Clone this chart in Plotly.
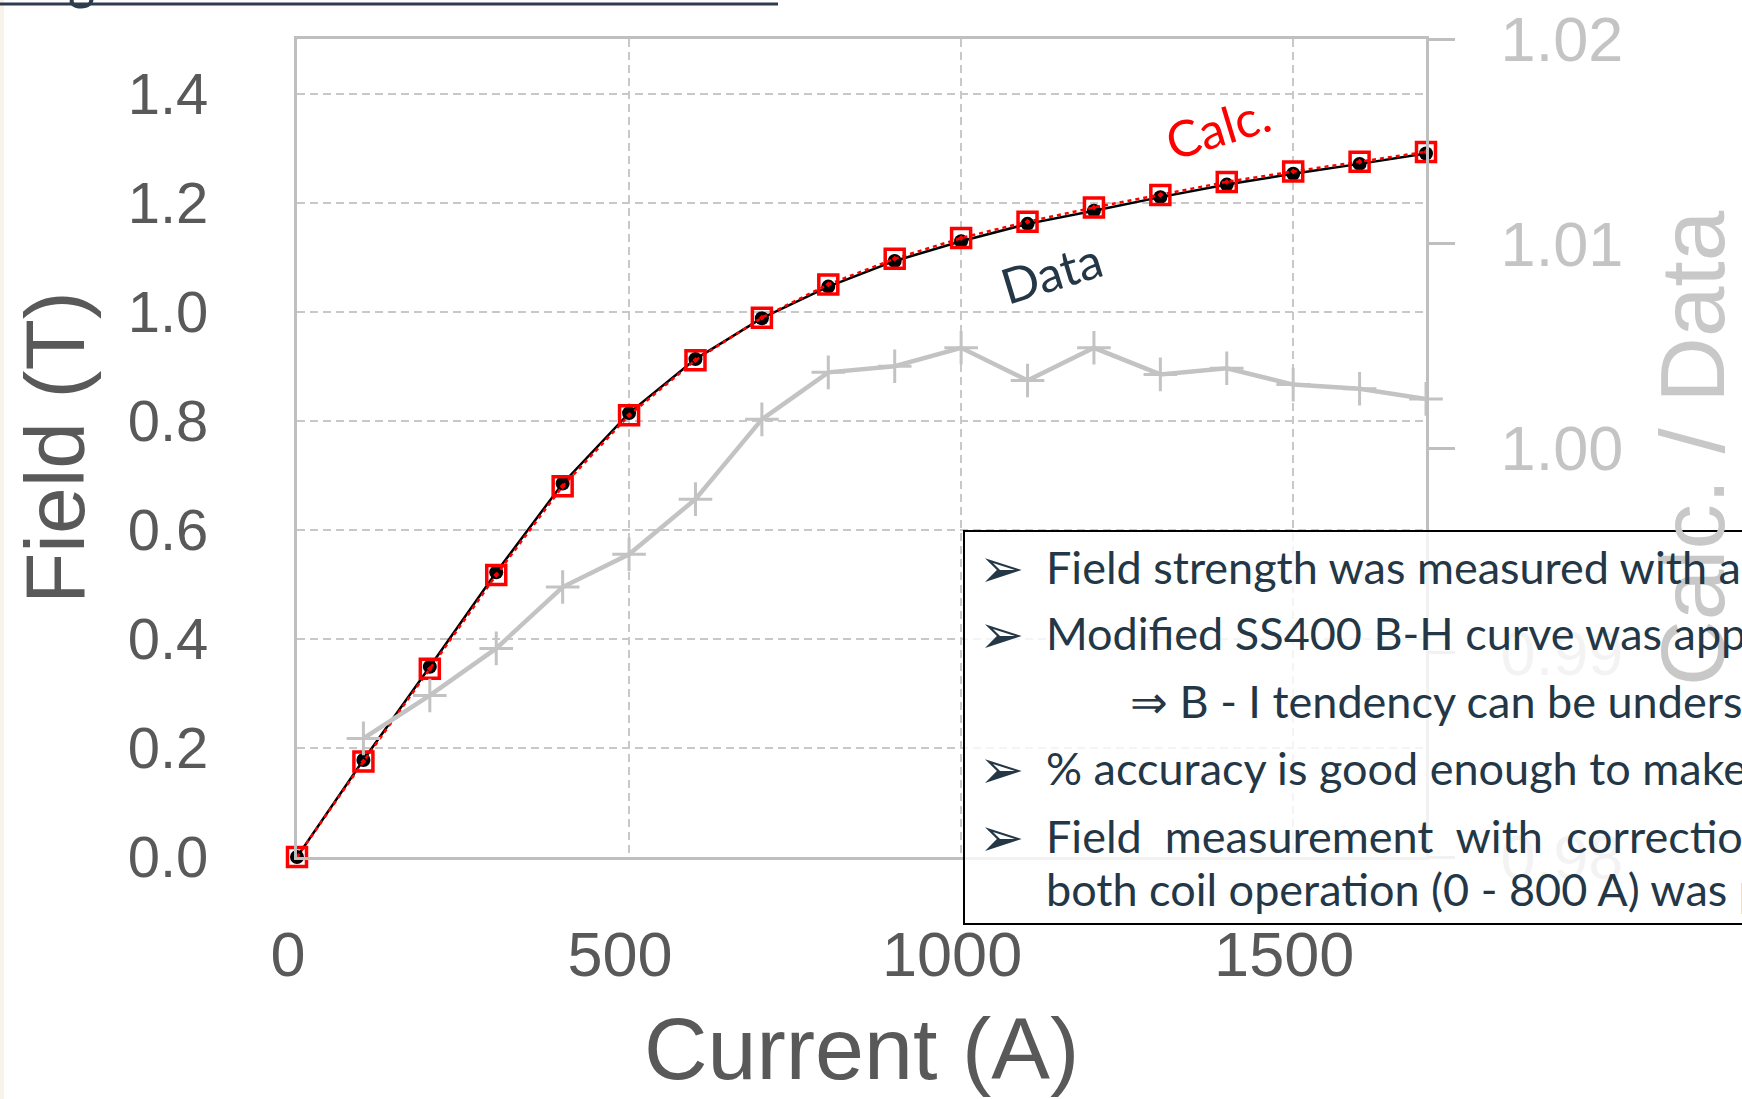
import plotly.graph_objects as go

# ---- data -------------------------------------------------------------
current_a = [0, 100, 200, 300, 400, 500, 600, 700, 800, 900,
             1000, 1100, 1200, 1300, 1400, 1500, 1600, 1700]
field_calc = [0.0, 0.175, 0.345, 0.517, 0.680, 0.810, 0.911, 0.989, 1.050,
              1.097, 1.135, 1.165, 1.191, 1.214, 1.238, 1.257, 1.275, 1.293]
field_data = [0.0, 0.178, 0.349, 0.522, 0.685, 0.814, 0.913, 0.988, 1.046,
              1.093, 1.129, 1.161, 1.185, 1.210, 1.233, 1.253, 1.271, 1.290]

ratio_current = [100, 200, 300, 400, 500, 600, 700, 800, 900,
                 1000, 1100, 1200, 1300, 1400, 1500, 1600, 1700]
calc_over_data = [0.9858, 0.9879, 0.9902, 0.9932, 0.9948, 0.9975, 1.0014,
                  1.0037, 1.0040, 1.0049, 1.0033, 1.0049, 1.0036, 1.0039,
                  1.0031, 1.0029, 1.0024]

x_ticks = [0, 500, 1000, 1500]
x_tick_text = ["0", "500", "1000", "1500"]
y_ticks = [0.0, 0.2, 0.4, 0.6, 0.8, 1.0, 1.2, 1.4]
y_tick_text = ["0.0", "0.2", "0.4", "0.6", "0.8", "1.0", "1.2", "1.4"]
y2_ticks = [0.98, 0.99, 1.00, 1.01, 1.02]
y2_tick_text = ["0.98", "0.99", "1.00", "1.01", "1.02"]

notes = [
    "Field strength was measured with a",
    "Modified SS400 B-H curve was applied",
    "\u21d2 B - I tendency can be understood",
    "% accuracy is good enough to make",
    "Field&nbsp; measurement&nbsp; with&nbsp; correction",
    "both coil operation (0 - 800 A) was p",
]

# ---- page geometry ----------------------------------------------------
W, H = 1742, 1099
L, R, T, B = 297, 316, 39, 242
PW, PH = W - L - R, H - T - B


def px(x):
    return (x - L) / PW


def py(y):
    return (H - B - y) / PH


AXIS_GRAY = "#bfbfbf"
GRID_GRAY = "#c8c8c8"
TICK_GRAY = "#595959"
NAVY = "#243746"
CHART_FONT = "Liberation Sans, Arial, sans-serif"
SLIDE_FONT = "Lato, Noto Sans, sans-serif"

fig = go.Figure()

# measured field
fig.add_trace(go.Scatter(
    x=current_a, y=field_data, mode="lines+markers", name="Data",
    line=dict(color="black", width=2.5),
    marker=dict(symbol="circle", size=14, color="black"),
    cliponaxis=False,
))
# calculated field
fig.add_trace(go.Scatter(
    x=current_a, y=field_calc, mode="lines+markers", name="Calc.",
    line=dict(color="#ff0000", width=2.5, dash="4px,4px"),
    marker=dict(symbol="square-open-dot", size=19, color="#ff0000",
                line=dict(color="#ff0000", width=3.5)),
    cliponaxis=False,
))
# ratio on the secondary axis
fig.add_trace(go.Scatter(
    x=ratio_current, y=calc_over_data, mode="lines+markers", yaxis="y2",
    name="Calc. / Data",
    line=dict(color="#c3c3c3", width=4.5),
    marker=dict(symbol="cross-thin", size=24,
                line=dict(color="#c3c3c3", width=3)),
    cliponaxis=False,
))

fig.update_layout(
    width=W, height=H,
    margin=dict(l=L, r=R, t=T, b=B, autoexpand=False),
    paper_bgcolor="white", plot_bgcolor="white",
    showlegend=False,
    xaxis=dict(
        range=[0, 1700], tickvals=x_ticks, ticktext=x_tick_text,
        showgrid=True, gridcolor=GRID_GRAY, gridwidth=1.5, griddash="8px,5px",
        showline=True, linecolor=AXIS_GRAY, linewidth=3, mirror=True,
        zeroline=False, ticks="", ticklabelstandoff=40, ticklabelshift=-9,
        tickfont=dict(family=CHART_FONT, size=63, color=TICK_GRAY),
    ),
    yaxis=dict(
        range=[0, 1.5], tickvals=y_ticks, ticktext=y_tick_text,
        showgrid=True, gridcolor=GRID_GRAY, gridwidth=1.5, griddash="8px,5px",
        showline=True, linecolor=AXIS_GRAY, linewidth=3,
        zeroline=False, ticks="", ticklabelstandoff=74,
        tickfont=dict(family=CHART_FONT, size=58, color=TICK_GRAY),
    ),
    yaxis2=dict(
        range=[0.98, 1.02], tickvals=y2_ticks, ticktext=y2_tick_text,
        overlaying="y", side="right", showgrid=False, zeroline=False,
        showline=True, linecolor=AXIS_GRAY, linewidth=3,
        ticks="outside", ticklen=26, tickwidth=3, tickcolor=AXIS_GRAY,
        ticklabelstandoff=33,
        tickfont=dict(family=CHART_FONT, size=63, color="#c4c4c4"),
    ),
)

annotations = [
    # axis titles
    dict(text="Field (T)", x=px(55), y=py(448), textangle=-90,
         font=dict(family=CHART_FONT, size=84, color=TICK_GRAY)),
    dict(text="Current (A)", x=px(861), y=py(1048),
         font=dict(family=CHART_FONT, size=88, color=TICK_GRAY)),
    dict(text="Calc. / Data", x=px(1692), y=py(448), textangle=-90,
         font=dict(family=CHART_FONT, size=91, color="#c8c8c8")),
    # curve labels
    dict(text="Calc.", x=px(1218), y=py(127), textangle=-17,
         font=dict(family=SLIDE_FONT, size=50, color="#ff0000")),
    dict(text="Data", x=px(1051), y=py(272), textangle=-17,
         font=dict(family=SLIDE_FONT, size=49, color=NAVY)),
    # fragment of the slide heading above the chart
    dict(text="g", x=px(81), y=py(-21),
         font=dict(family=SLIDE_FONT, size=52, color="#2e3d4d")),
]

# notes box text
note_rows = [567, 633, 701, 768, 836, 889]
note_x = [1044, 1044, 1128, 1044, 1044, 1044]
bullet_rows = [567, 633, 768, 836]
for txt, yy, xx in zip(notes, note_rows, note_x):
    annotations.append(dict(
        text=txt, x=px(xx), y=py(yy), xanchor="left",
        font=dict(family=SLIDE_FONT, size=45, color=NAVY)))
for yy in bullet_rows:
    annotations.append(dict(
        text="\u27a2", x=px(1001), y=py(yy + 1),
        font=dict(family="DejaVu Sans, sans-serif", size=54, color=NAVY)))

for a in annotations:
    a.setdefault("xref", "paper")
    a.setdefault("yref", "paper")
    a.setdefault("showarrow", False)
    a.setdefault("xanchor", "center")
    a.setdefault("yanchor", "middle")
fig.update_layout(annotations=annotations)

fig.update_layout(shapes=[
    # notes box (mostly opaque, running off the page edge)
    dict(type="rect", xref="paper", yref="paper",
         x0=px(964), x1=px(1770), y0=py(924), y1=py(531),
         fillcolor="rgba(255,255,255,0.8)",
         line=dict(color="black", width=2), layer="above"),
    # heading underline at the top of the page
    dict(type="line", xref="paper", yref="paper",
         x0=px(0), x1=px(778), y0=py(4), y1=py(4),
         line=dict(color="#2e3d4d", width=3), layer="above"),
    # page edge tint
    dict(type="rect", xref="paper", yref="paper",
         x0=px(0), x1=px(4), y0=py(1099), y1=py(0),
         fillcolor="#f8f4ea", line=dict(width=0), layer="below"),
])

fig.write_html("out.html")
